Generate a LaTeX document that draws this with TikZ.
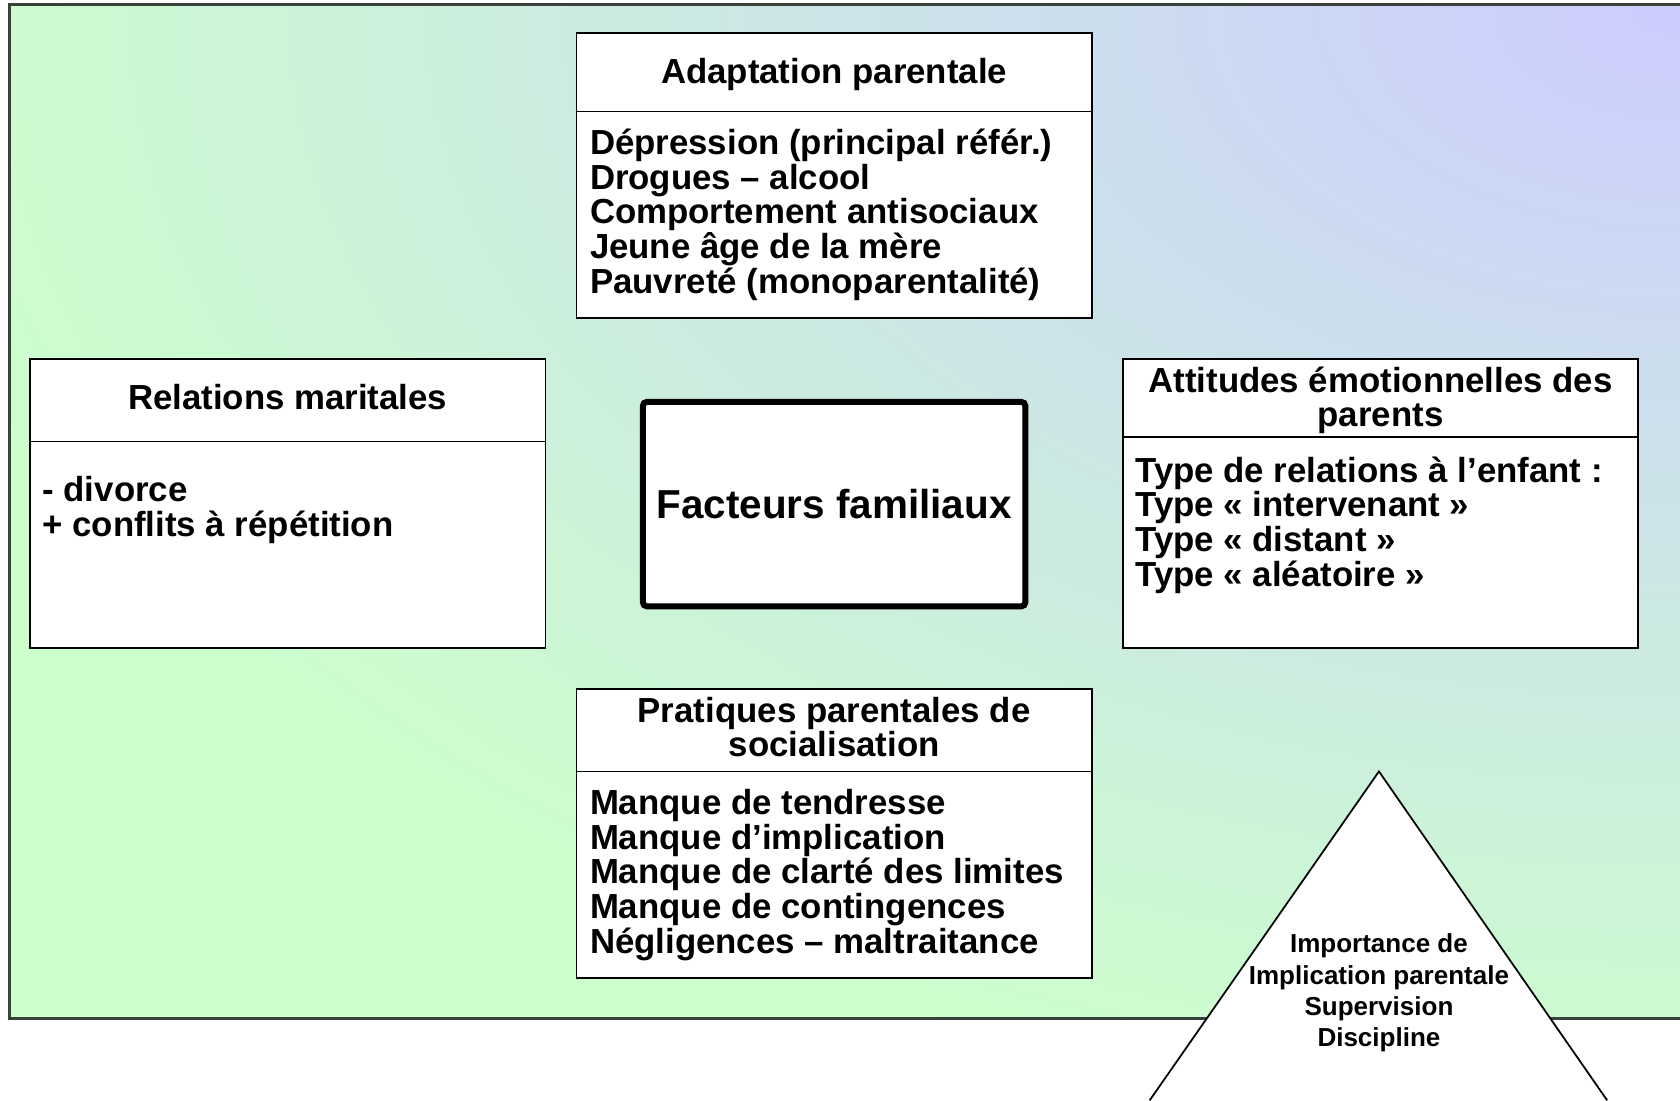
\documentclass[tikz,border=0pt]{standalone}
\usepackage{fontspec}
\setmainfont{Liberation Sans}
\definecolor{lavbg}{HTML}{CCCCFF}
\definecolor{grnbg}{HTML}{CCFFCC}
\definecolor{framegray}{HTML}{3A403A}

\begin{document}
\begin{tikzpicture}[x=0.010714cm, y=-0.010714cm,
  panel/.style={draw=black, line width=0.45pt, fill=white},
  head/.style={font=\fontsize{9.9}{10}\selectfont\bfseries, inner sep=0pt, anchor=base},
  item/.style={font=\fontsize{9.9}{10}\selectfont\bfseries, inner sep=0pt, anchor=base west},
  tri/.style={font=\fontsize{7.4}{8.8}\selectfont\bfseries, inner sep=0pt, anchor=base},
]
\useasboundingbox (0,0) rectangle (1568,1027);
\fill[white] (0,0) rectangle (1568,1027);

% background panel: green, glowing lavender from the upper right corner
\begin{scope}
  \clip (8.7,4.4) rectangle (1572,950.5);
  \fill[grnbg] (8.7,4.4) rectangle (1572,950.5);
  \foreach \k in {80,79,...,1} {
    \pgfmathsetmacro\lav{100-1.25*\k}
    \pgfmathsetmacro\rx{21.25*\k}
    \pgfmathsetmacro\ry{13.125*\k}
    \fill[lavbg!\lav!grnbg] (1568,4.4) ellipse [x radius=\rx, y radius=\ry];
  }
\end{scope}
\draw[framegray, line width=0.8pt] (1572,4.4) -- (8.7,4.4) -- (8.7,950.5) -- (1572,950.5);

% Adaptation parentale
\draw[panel] (538,31) rectangle (1019,297);
\draw[panel] (538,104) -- (1019,104);
\node[head] (adh) at (778.5,78) {Adaptation parentale};
\foreach \txt [count=\i] in {Dépression (principal référ.), Drogues – alcool, Comportement antisociaux, Jeune âge de la mère, Pauvreté (monoparentalité)}
  \node[item] (ad\i) at (550,{144+32.5*(\i-1)}) {\txt};

% Relations maritales
\draw[panel] (28,335) rectangle (509,605);
\draw[panel] (28,412) -- (509,412);
\node[head] (rmh) at (268.5,382) {Relations maritales};
\node[item] (rm1) at (39,468) {- divorce};
\node[item] (rm2) at (39,500.5) {+ conflits à répétition};

% Attitudes emotionnelles
\draw[panel] (1048,335) rectangle (1529,605);
\draw[panel] (1048,408) -- (1529,408);
\node[head] (ath1) at (1288.5,366) {Attitudes émotionnelles des};
\node[head] (ath2) at (1288.5,398.5) {parents};
\foreach \txt [count=\i] in {Type de relations à l’enfant :, Type « intervenant », Type « distant », Type « aléatoire »}
  \node[item] (at\i) at (1059,{450+32.5*(\i-1)}) {\txt};

% Pratiques parentales
\draw[panel] (538,643) rectangle (1019,913);
\draw[panel] (538,720) -- (1019,720);
\node[head] (prh1) at (778.5,674) {Pratiques parentales de};
\node[head] (prh2) at (778.5,706.5) {socialisation};
\foreach \txt [count=\i] in {Manque de tendresse, Manque d’implication, Manque de clarté des limites, Manque de contingences, Négligences – maltraitance}
  \node[item] (pr\i) at (550,{760+32.5*(\i-1)}) {\txt};

% central box
\node[draw=black, line width=1.7pt, fill=white, rounded corners=1.2pt,
      minimum width=357*0.010714cm, minimum height=191*0.010714cm,
      font=\fontsize{11.5}{13}\selectfont\bfseries] (core) at (778.5,470.5) {Facteurs familiaux};

% pyramid
\coordinate (apex) at (1287,720);
\coordinate (bl) at (1073,1027);
\coordinate (br) at (1500,1027);
\fill[white] (apex) -- (bl) -- (br) -- cycle;
\draw[line width=0.5pt] (bl) -- (apex) -- (br);
\node[tri] (p1) at (1287,889) {Importance de};
\node[tri] (p2) at (1287,918.5) {Implication parentale};
\node[tri] (p3) at (1287,947.5) {Supervision};
\node[tri] (p4) at (1287,976.5) {Discipline};
\end{tikzpicture}
\end{document}
